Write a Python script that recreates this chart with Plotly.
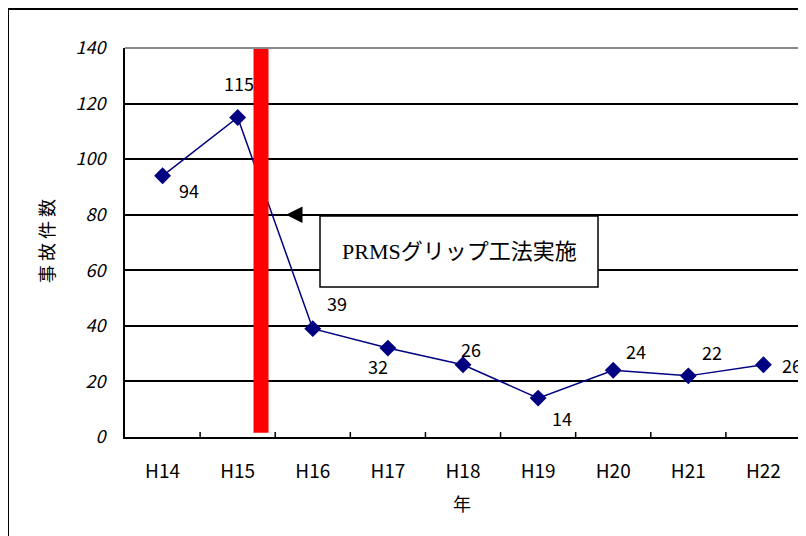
import plotly.graph_objects as go

years = ["H14", "H15", "H16", "H17", "H18", "H19", "H20", "H21", "H22"]
accidents = [94, 115, 39, 32, 26, 14, 24, 22, 26]
y_ticks = [0, 20, 40, 60, 80, 100, 120, 140]
label_dx = [26, 1, 24, -10, 8, 24, 23, 24, 29]
label_dy = [-14, 34, 26, -18, 16, -20, 19, 24, 0]
note_text = "PRMSグリップ工法実施"

# page body has an 8px margin; work in screen pixels and convert
OFF = 8
W, H = 806 - OFF, 536 - OFF
L, T = 125 - OFF, 48 - OFF
R = W - (801 - OFF)
B = H - (437 - OFF)
PW = W - L - R
PH = H - T - B

def px2x(px):
    return (px - OFF - L) / PW * 9 - 0.5

def py2y(py):
    return (T + PH - (py - OFF)) / PH * 140

def ppx(px):
    return (px - OFF - L) / PW

def ppy(py):
    return (T + PH - (py - OFF)) / PH

fig = go.Figure()
fig.add_trace(go.Scatter(
    x=list(range(len(years))), y=accidents, mode="lines+markers",
    line=dict(color="#000080", width=1.5),
    marker=dict(symbol="diamond", size=13, color="#000080"),
    hoverinfo="skip", showlegend=False,
))

font_main = "Noto Sans CJK JP, DejaVu Sans, sans-serif"
anns = []
for i, v in enumerate(accidents):
    anns.append(dict(x=i, y=v, xref="x", yref="y", text=str(v), showarrow=False,
                     xshift=label_dx[i], yshift=label_dy[i],
                     xanchor="center", yanchor="middle",
                     font=dict(family=font_main, size=18, color="#000")))

bx0, bx1 = px2x(320), px2x(598)
by0, by1 = py2y(287), py2y(216)
anns.append(dict(x=px2x(459), y=py2y(251), xref="x", yref="y", text=note_text,
                 showarrow=False, xanchor="center", yanchor="middle",
                 font=dict(family="Liberation Serif, Noto Sans CJK JP, serif", size=22, color="#000")))
anns.append(dict(x=px2x(286), y=80, xref="x", yref="y", ax=px2x(330), ay=80, axref="x", ayref="y",
                 text="", showarrow=True, arrowhead=2, arrowsize=2.2, arrowwidth=1.5, arrowcolor="#000"))
anns.append(dict(x=ppx(46), y=ppy(241), xref="paper", yref="paper",
                 text="事 故 件 数", textangle=-90, showarrow=False,
                 xanchor="center", yanchor="middle",
                 font=dict(family=font_main, size=18, color="#000")))
anns.append(dict(x=ppx(462), y=ppy(503), xref="paper", yref="paper", text="年",
                 showarrow=False, xanchor="center", yanchor="middle",
                 font=dict(family=font_main, size=18, color="#000")))

shapes = [
    dict(type="line", xref="x", yref="y", x0=px2x(261), x1=px2x(261), y0=1.5, y1=140,
         line=dict(color="#ff0000", width=15), layer="above"),
    dict(type="line", xref="paper", yref="paper", x0=0, x1=1, y0=1, y1=1,
         line=dict(color="#888888", width=2), layer="above"),
    dict(type="line", xref="paper", yref="paper", x0=1, x1=1, y0=0, y1=1,
         line=dict(color="#888888", width=2), layer="below"),
    dict(type="rect", xref="x", yref="y", x0=bx0, x1=bx1, y0=by0, y1=by1,
         line=dict(color="#000", width=1.5), fillcolor="#ffffff", layer="above"),
    dict(type="rect", xref="paper", yref="paper", x0=ppx(8), x1=ppx(820),
         y0=ppy(560), y1=ppy(9),
         line=dict(color="#000", width=2), layer="below"),
]

fig.update_layout(
    width=W, height=H, margin=dict(l=L, r=R, t=T, b=B, autoexpand=False),
    paper_bgcolor="#ffffff", plot_bgcolor="#ffffff",
    annotations=anns, shapes=shapes, showlegend=False,
    xaxis=dict(range=[-0.5, 8.5], tickvals=list(range(len(years))), ticktext=years,
               showgrid=False, zeroline=False, showline=True, linecolor="#000", linewidth=2,
               ticks="", automargin=False,
               tickfont=dict(family=font_main, size=19, color="#000"), ticklabelstandoff=16),
    yaxis=dict(range=[0, 140], tickvals=y_ticks, showgrid=True, gridcolor="#000", gridwidth=1.5,
               zeroline=False, showline=True, linecolor="#000", linewidth=2,
               ticks="inside", ticklen=4, tickcolor="#000", automargin=False,
               tickfont=dict(family=font_main, size=18, color="#000", style="italic"),
               ticklabelstandoff=14),
)
# category boundary ticks on the x axis (inside, pointing up)
for k in range(1, len(years)):
    fig.add_shape(type="line", xref="x", yref="paper", x0=k - 0.5, x1=k - 0.5, y0=0, y1=5 / PH,
                  line=dict(color="#000", width=1.5))
fig.write_html("out.html")
